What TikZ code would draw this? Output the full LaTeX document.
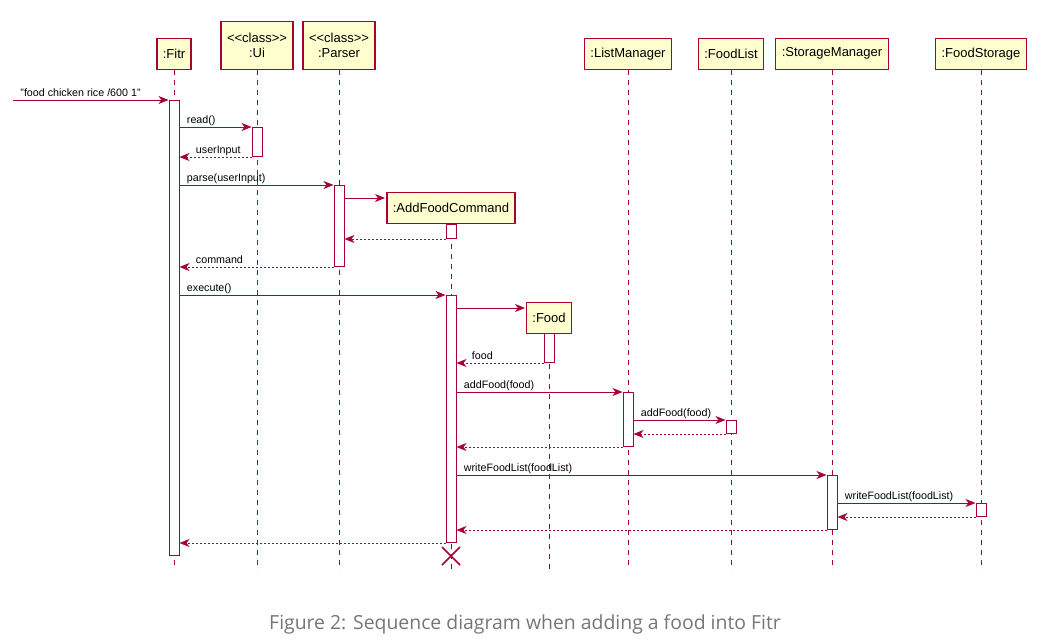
\documentclass[tikz,border=0pt]{standalone}
\usepackage{fontspec}
\setmainfont{Liberation Sans}
\newfontfamily\capfont{Open Sans}
\usetikzlibrary{arrows.meta}
\definecolor{umlred}{HTML}{A80036}
\definecolor{umlfill}{HTML}{FEFECE}
\definecolor{capgray}{RGB}{118,118,118}
\newcommand{\stereo}{\textless\kern0pt\textless class\textgreater\kern0pt\textgreater}

\begin{document}
\begin{tikzpicture}[x=1pt,y=-1pt,
    part/.style={draw=umlred,fill=umlfill,line width=1.4pt,font=\fontsize{13}{15}\selectfont,inner xsep=6pt,inner ysep=2pt,minimum height=31pt,anchor=south,align=center},
    act/.style={draw=umlred,fill=white,line width=1pt,minimum width=10pt,inner sep=0pt,anchor=north},
    life/.style={draw=umlred,dash pattern=on 5pt off 5pt,line width=0.8pt},
    msg/.style={draw=umlred,line width=0.9pt,-{Stealth[length=10pt,width=8pt,inset=3pt]}},
    ret/.style={msg,dash pattern=on 2pt off 2pt},
    lbl/.style={font=\fontsize{10.7}{12}\selectfont,inner sep=0pt,anchor=base west,yshift=4pt}]
    \useasboundingbox (0,0) rectangle (1043,642);
    \node[part] (fitr) at (174,70) {:Fitr};
    \node[part,minimum height=48pt] (ui) at (257,70) {\stereo\\:Ui};
    \node[part,minimum height=48pt] (parser) at (339,70) {\stereo\\:Parser};
    \node[part] (lm) at (628,70) {:ListManager};
    \node[part] (fl) at (731,70) {:FoodList};
    \node[part] (sm) at (832,70) {:StorageManager};
    \node[part] (fs) at (981,70) {:FoodStorage};
    \node[part,anchor=north] (afc) at (451,192) {:AddFoodCommand};
    \node[part,anchor=north] (food) at (549,302) {:Food};
    \coordinate (bottom) at (0,570);
    \foreach \p in {fitr,ui,parser,lm,fl,sm,fs,afc,food}
        \draw[life] (\p.south) -- (\p.south |- bottom);
    \node[act,minimum height=455pt] (fitrA) at (174,100) {};
    \node[act,minimum height=29pt] (uiA) at (257,127) {};
    \node[act,minimum height=81pt] (parserA) at (339,185) {};
    \node[act,minimum height=14pt] (afcA) at (451,224) {};
    \node[act,minimum height=247pt] (afcB) at (451,295) {};
    \node[act,minimum height=29pt] (foodA) at (549,333) {};
    \node[act,minimum height=54pt] (lmA) at (628,392) {};
    \node[act,minimum height=13pt] (flA) at (731,420) {};
    \node[act,minimum height=54pt] (smA) at (832,475) {};
    \node[act,minimum height=13pt] (fsA) at (981,503) {};
    \coordinate (entry) at (13,100);
    \coordinate (newcmd) at (385,198);
    \coordinate (newfood) at (525,308);
    \coordinate (kill) at (451,556);
    \draw[msg] (entry) -- node[lbl,pos=0,xshift=7pt]{"food chicken rice /600 1"} (fitrA.north west);
    \draw[msg] (fitrA.east |- uiA.north) -- node[lbl,pos=0,xshift=7pt]{read()} (uiA.north west);
    \draw[ret] (uiA.south west) -- node[lbl,pos=1,xshift=16pt]{userInput} (fitrA.east |- uiA.south);
    \draw[msg] (fitrA.east |- parserA.north) -- node[lbl,pos=0,xshift=7pt]{parse(userInput)} (parserA.north west);
    \draw[msg] (parserA.east |- newcmd) -- (newcmd);
    \draw[ret] (afcA.south west) -- (parserA.east |- afcA.south);
    \draw[ret] (parserA.south west) -- node[lbl,pos=1,xshift=16pt]{command} (fitrA.east |- parserA.south);
    \draw[msg] (fitrA.east |- afcB.north) -- node[lbl,pos=0,xshift=7pt]{execute()} (afcB.north west);
    \draw[msg] (afcB.east |- newfood) -- (newfood);
    \draw[ret] (foodA.south west) -- node[lbl,pos=1,xshift=15pt]{food} (afcB.east |- foodA.south);
    \draw[msg] (afcB.east |- lmA.north) -- node[lbl,pos=0,xshift=7pt]{addFood(food)} (lmA.north west);
    \draw[msg] (lmA.east |- flA.north) -- node[lbl,pos=0,xshift=7pt]{addFood(food)} (flA.north west);
    \draw[ret] (flA.south west) -- (lmA.east |- flA.south);
    \draw[ret] (lmA.south west) -- (afcB.east |- lmA.south);
    \draw[msg] (afcB.east |- smA.north) -- node[lbl,pos=0,xshift=7pt]{writeFoodList(foodList)} (smA.north west);
    \draw[msg] (smA.east |- fsA.north) -- node[lbl,pos=0,xshift=7pt]{writeFoodList(foodList)} (fsA.north west);
    \draw[ret] (fsA.south west) -- (smA.east |- fsA.south);
    \draw[ret] (smA.south west) -- (afcB.east |- smA.south);
    \draw[ret] (afcB.south west) -- (fitrA.east |- afcB.south);
    \draw[umlred,line width=1.5pt] ([shift={(-9,-9)}]kill) -- ([shift={(9,9)}]kill)
        ([shift={(-9,9)}]kill) -- ([shift={(9,-9)}]kill);
    \node[font=\capfont\fontsize{19.4}{22}\selectfont,text=capgray] (caption) at (525,624) {Figure 2: Sequence diagram when adding a food into Fitr};
\end{tikzpicture}
\end{document}
